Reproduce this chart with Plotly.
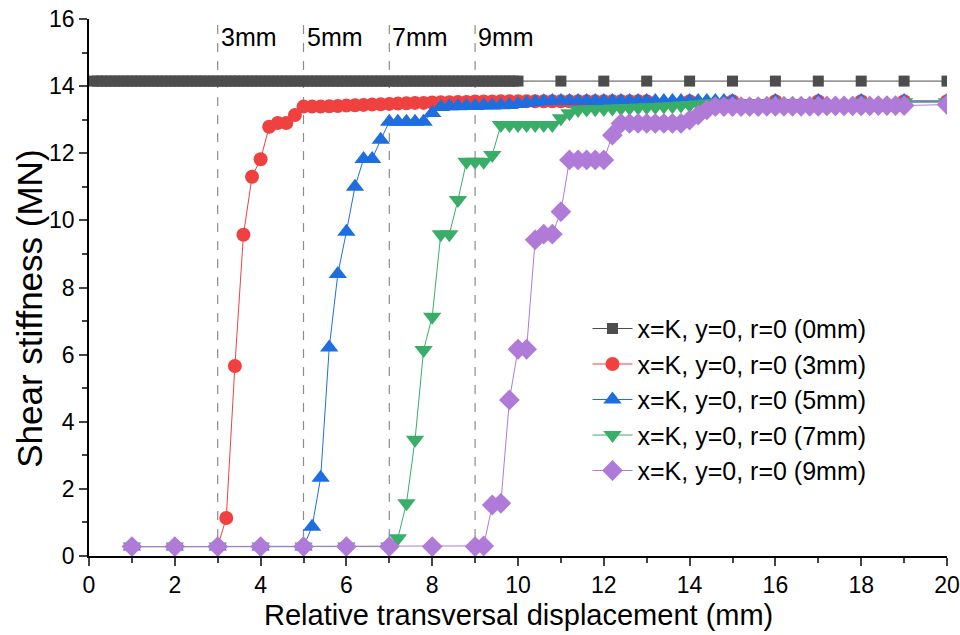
import numpy as np
import plotly.graph_objects as go

# ---------------- data ----------------
x_0mm = list(np.round(np.arange(0.1, 10.001, 0.1), 1)) + [11, 12, 13, 14, 15, 16, 17, 18, 19, 20]
y_0mm = [14.15] * len(x_0mm)

x_3mm = [1, 2, 3] + list(np.round(np.arange(3.2, 13.001, 0.2), 1)) + [14, 15, 16, 17, 18, 19, 20]
y_3mm = [0.28, 0.28, 0.28,
         1.13, 5.66, 9.57, 11.3, 11.82, 12.79, 12.9, 12.9, 13.14, 13.39,
         13.39, 13.39, 13.4, 13.41, 13.42, 13.43, 13.44, 13.45, 13.46, 13.47,
         13.48, 13.49, 13.5, 13.5, 13.51, 13.52, 13.52, 13.53, 13.53, 13.54,
         13.54, 13.54, 13.55, 13.55, 13.55, 13.55, 13.55, 13.55, 13.55, 13.55,
         13.55, 13.55, 13.55, 13.55, 13.55, 13.55, 13.55, 13.55, 13.55, 13.55,
         13.55, 13.55, 13.55, 13.55, 13.55, 13.55, 13.55]

x_5mm = [1, 2, 3, 4, 5] + list(np.round(np.arange(5.2, 15.001, 0.2), 1)) + [16, 17, 18, 19, 20]
y_5mm = [0.28, 0.28, 0.28, 0.28, 0.28,
         0.87, 2.33, 6.21, 8.4, 9.66, 11.0, 11.83, 11.83, 12.4, 12.94,
         12.94, 12.94, 12.94, 12.94, 13.2, 13.38, 13.4, 13.4, 13.41, 13.41,
         13.42, 13.42, 13.43, 13.44, 13.47, 13.5, 13.53, 13.55, 13.56, 13.56,
         13.56, 13.56, 13.56, 13.56, 13.56, 13.56, 13.56, 13.56, 13.56, 13.56,
         13.56, 13.56, 13.56, 13.56, 13.56, 13.56, 13.56, 13.56, 13.56, 13.56,
         13.56, 13.56, 13.56, 13.56, 13.56]

x_7mm = [1, 2, 3, 4, 5, 6, 7] + list(np.round(np.arange(7.2, 17.001, 0.2), 1)) + [18, 19, 20]
y_7mm = [0.28, 0.28, 0.28, 0.28, 0.28, 0.28, 0.28,
         0.53, 1.57, 3.46, 6.14, 7.13, 9.59, 9.59, 10.61, 11.75, 11.75,
         11.75, 11.95, 12.84, 12.84, 12.84, 12.84, 12.84, 12.84, 12.84, 13.04,
         13.19, 13.29, 13.3, 13.31, 13.32, 13.33, 13.34, 13.35, 13.36, 13.37,
         13.38, 13.39, 13.4, 13.42, 13.44, 13.46, 13.48, 13.49, 13.5, 13.5,
         13.5, 13.5, 13.5, 13.5, 13.5, 13.5, 13.5, 13.5, 13.5, 13.5,
         13.52, 13.52, 13.52]

x_9mm = [1, 2, 3, 4, 5, 6, 7, 8, 9] + list(np.round(np.arange(9.2, 19.001, 0.2), 1)) + [20]
y_9mm = [0.28, 0.28, 0.28, 0.28, 0.28, 0.28, 0.28, 0.28, 0.28,
         0.3, 1.52, 1.57, 4.65, 6.16, 6.16, 9.42, 9.59, 9.59, 10.26,
         11.8, 11.8, 11.8, 11.8, 11.8, 12.54, 12.89, 12.89, 12.89, 12.89,
         12.89, 12.89, 12.89, 12.89, 12.99, 13.14, 13.29, 13.39, 13.39, 13.39,
         13.39, 13.39, 13.39, 13.4, 13.4, 13.4, 13.4, 13.4, 13.4, 13.4,
         13.41, 13.41, 13.41, 13.41, 13.41, 13.41, 13.42, 13.42, 13.42, 13.42,
         13.45]

series_names = ["x=K, y=0, r=0 (0mm)", "x=K, y=0, r=0 (3mm)", "x=K, y=0, r=0 (5mm)",
                "x=K, y=0, r=0 (7mm)", "x=K, y=0, r=0 (9mm)"]
marker_lines = [3, 5, 7, 9]
marker_labels = ["3mm", "5mm", "7mm", "9mm"]
x_title = "Relative transversal displacement (mm)"
y_title = "Shear stiffness (MN)"

# ---------------- styles ----------------
colors = ["#4d4d4d", "#f04141", "#1e6ee0", "#38ae68", "#b07ad9"]
symbols = ["square", "circle", "triangle-up", "triangle-down", "diamond"]
sizes = [11, 14, 16, 16, 16]
FONT = "Liberation Sans, Arial, sans-serif"

fig = go.Figure()
for xs, ys, name, c, s, sz in zip([x_0mm, x_3mm, x_5mm, x_7mm, x_9mm],
                                  [y_0mm, y_3mm, y_5mm, y_7mm, y_9mm],
                                  series_names, colors, symbols, sizes):
    fig.add_trace(go.Scatter(x=xs, y=ys, name=name, mode="lines+markers",
                             line=dict(color=c, width=1),
                             marker=dict(symbol=s, size=sz, color=c, line=dict(width=0))))

for xv, lab in zip(marker_lines, marker_labels):
    fig.add_shape(type="line", x0=xv, x1=xv, y0=0, y1=16, xref="x", yref="y",
                  line=dict(color="#8c8c8c", width=1.2, dash="dash"), layer="below")
    fig.add_annotation(x=xv, y=15.45, xref="x", yref="y", text=lab, showarrow=False,
                       xanchor="left", yanchor="middle", xshift=1,
                       font=dict(family=FONT, size=25, color="black"))

# axis titles
fig.add_annotation(x=0.5, y=-0.109, xref="paper", yref="paper", text=x_title, showarrow=False,
                   xanchor="center", yanchor="middle", font=dict(family=FONT, size=29, color="black"))
fig.add_annotation(x=-0.069, y=0.46, xref="paper", yref="paper", text=y_title, showarrow=False,
                   textangle=-90, xanchor="center", yanchor="middle",
                   font=dict(family=FONT, size=35, color="black"))

fig.update_layout(
    width=960, height=635,
    margin=dict(l=89, r=13, t=19, b=79, autoexpand=False),
    paper_bgcolor="white", plot_bgcolor="white",
    font=dict(family=FONT, color="black"),
    showlegend=True,
    legend=dict(x=0.581, y=0.466, xanchor="left", yanchor="top",
                font=dict(family=FONT, size=25), bgcolor="rgba(0,0,0,0)",
                tracegroupgap=0, itemwidth=40),
)
fig.update_xaxes(range=[0, 20], tickvals=list(range(0, 21, 2)), ticks="outside", ticklen=8,
                 tickwidth=1.5, showline=True, linecolor="black", linewidth=1.5, showgrid=False,
                 zeroline=False, tickfont=dict(size=23, family=FONT), automargin=False,
                 minor=dict(tickvals=list(range(1, 20, 2)), ticks="outside", ticklen=5, tickwidth=1.5))
fig.update_yaxes(range=[0, 16], tickvals=list(range(0, 17, 2)), ticks="outside", ticklen=8,
                 tickwidth=1.5, showline=True, linecolor="black", linewidth=1.5, showgrid=False,
                 zeroline=False, tickfont=dict(size=23, family=FONT), automargin=False,
                 minor=dict(tickvals=list(range(1, 16, 2)), ticks="outside", ticklen=5, tickwidth=1.5))

fig.write_html("out.html")
